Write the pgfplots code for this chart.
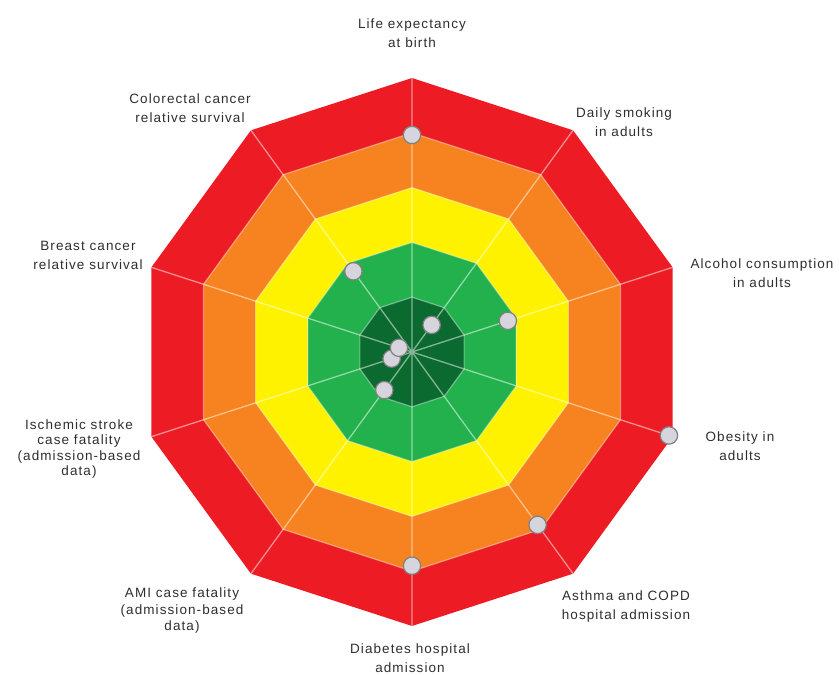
\documentclass[border=0pt]{standalone}
\usepackage{fontspec}
\setmainfont{Liberation Sans}
\newfontfamily\labfont[LetterSpace=8]{Liberation Sans}
\usepackage{pgfplots}
\pgfplotsset{compat=1.18}
\usepgfplotslibrary{polar}

\definecolor{bandred}{HTML}{ED1C24}
\definecolor{bandorange}{HTML}{F6831F}
\definecolor{bandyellow}{HTML}{FFF200}
\definecolor{bandgreen}{HTML}{22B14C}
\definecolor{banddark}{HTML}{0B6A30}
\definecolor{dotfill}{HTML}{D6D4DC}
\definecolor{dotedge}{HTML}{808080}
\definecolor{labtext}{HTML}{2E2E2E}

\begin{document}
\begin{tikzpicture}
\begin{polaraxis}[
	at={(0,0)}, anchor=origin,
	scale only axis, width=548bp, height=548bp,
	xmin=0, xmax=360, ymin=0, ymax=5,
	hide axis, clip=false,
]
% bands, outside in
\addplot[draw=none, fill=bandred] coordinates {(90,5) (54,5) (18,5) (342,5) (306,5) (270,5) (234,5) (198,5) (162,5) (126,5) (90,5)};
\addplot[draw=none, fill=bandorange] coordinates {(90,4) (54,4) (18,4) (342,4) (306,4) (270,4) (234,4) (198,4) (162,4) (126,4) (90,4)};
\addplot[draw=none, fill=bandyellow] coordinates {(90,3) (54,3) (18,3) (342,3) (306,3) (270,3) (234,3) (198,3) (162,3) (126,3) (90,3)};
\addplot[draw=none, fill=bandgreen] coordinates {(90,2) (54,2) (18,2) (342,2) (306,2) (270,2) (234,2) (198,2) (162,2) (126,2) (90,2)};
\addplot[draw=none, fill=banddark] coordinates {(90,1) (54,1) (18,1) (342,1) (306,1) (270,1) (234,1) (198,1) (162,1) (126,1) (90,1)};
% ring lines
\addplot[mark=none, white, opacity=0.4, line width=1.2bp] coordinates {(90,4) (54,4) (18,4) (342,4) (306,4) (270,4) (234,4) (198,4) (162,4) (126,4) (90,4)};
\addplot[mark=none, white, opacity=0.4, line width=1.2bp] coordinates {(90,3) (54,3) (18,3) (342,3) (306,3) (270,3) (234,3) (198,3) (162,3) (126,3) (90,3)};
\addplot[mark=none, white, opacity=0.4, line width=1.2bp] coordinates {(90,2) (54,2) (18,2) (342,2) (306,2) (270,2) (234,2) (198,2) (162,2) (126,2) (90,2)};
\addplot[mark=none, white, opacity=0.4, line width=1.2bp] coordinates {(90,1) (54,1) (18,1) (342,1) (306,1) (270,1) (234,1) (198,1) (162,1) (126,1) (90,1)};
% spokes
\addplot[mark=none, white, opacity=0.5, line width=1.3bp] coordinates {(90,5) (0,0) (54,5) (0,0) (18,5) (0,0) (342,5) (0,0) (306,5) (0,0) (270,5) (0,0) (234,5) (0,0) (198,5) (0,0) (162,5) (0,0) (126,5)};
% indicator values
\addplot[only marks, mark=*, mark size=8.7bp,
	mark options={fill=dotfill, draw=dotedge, line width=1.2bp}]
	coordinates {(90,3.96) (54,0.61) (18,1.84) (342,4.93) (306,3.9) (270,3.9) (234,0.86) (198,0.39) (162,0.25) (126,1.82)};
\end{polaraxis}

\begin{scope}[every node/.style={font=\labfont\fontsize{13.5bp}{19bp}\selectfont, text=labtext, align=center, inner sep=0pt}]
\node at (0bp,319bp) {Life expectancy\\at birth};
\node at (212bp,230bp) {Daily smoking\\in adults};
\node at (350bp,79bp) {Alcohol consumption\\in adults};
\node at (328bp,-94bp) {Obesity in\\adults};
\node at (214bp,-255bp) {Asthma and COPD\\hospital admission};
\node at (-2bp,-306bp) {Diabetes hospital\\admission};
\node[font=\labfont\fontsize{13.5bp}{16.5bp}\selectfont] at (-230bp,-259bp) {AMI case fatality\\(admission-based\\data)};
\node[font=\labfont\fontsize{13.5bp}{15.5bp}\selectfont] at (-333bp,-97bp) {Ischemic stroke\\case fatality\\(admission-based\\data)};
\node at (-324bp,97bp) {Breast cancer\\relative survival};
\node at (-222bp,244bp) {Colorectal cancer\\relative survival};
\end{scope}

\pgfresetboundingbox
\path (-412bp,-323bp) rectangle (427bp,352bp);
\end{tikzpicture}
\end{document}
